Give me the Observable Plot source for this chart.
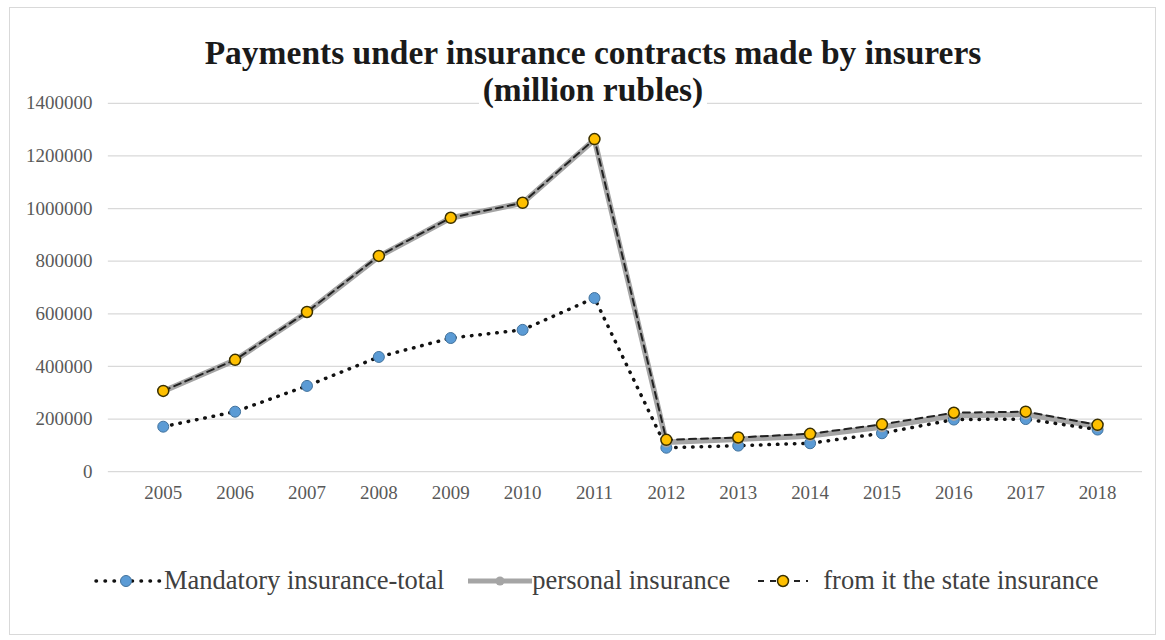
<!DOCTYPE html>
<html>
<head>
<meta charset="utf-8">
<script src="https://cdn.jsdelivr.net/npm/d3@7"></script>
<script src="https://cdn.jsdelivr.net/npm/@observablehq/plot@0.6"></script>
<style>
  html, body { margin: 0; padding: 0; background: #fff; }
  #frame {
    position: absolute; left: 9px; top: 7px; width: 1147px; height: 628px;
    border: 1px solid #d9d9d9; box-sizing: border-box; background: #fff;
  }
  #chart { position: absolute; left: 0; top: 0; }
  #title {
    position: absolute; left: 83px; top: 26px; width: 1000px;
    text-align: center; font-family: "Liberation Serif", "DejaVu Serif", serif; font-weight: bold;
    font-size: 33.5px; line-height: 37px; color: #1a1a1a;
  }
  #title span { background: #fff; padding: 0 4px; }
  #legend {
    position: absolute; left: 84px; top: 557px; white-space: nowrap;
    font-family: "Liberation Serif", "DejaVu Serif", serif; font-size: 26.5px; color: #404040;
    display: flex; align-items: center; gap: 24px;
  }
  #legend .item { display: flex; align-items: center; font-family: "Liberation Serif", "DejaVu Serif", serif; }
</style>
</head>
<body>
<div id="frame">
  <div id="chart"></div>
  <div id="title"><span>Payments under insurance contracts made by insurers</span><br><span>(million rubles)</span></div>
  <div id="legend"></div>
</div>
<script>
const years = [2005, 2006, 2007, 2008, 2009, 2010, 2011, 2012, 2013, 2014, 2015, 2016, 2017, 2018];
const mandatoryTotal = [171000, 228000, 326000, 436000, 508000, 539000, 660000, 91000, 99000, 108000, 146000, 198000, 200000, 160000];
const personalInsurance = [306000, 424000, 606000, 818000, 964000, 1021000, 1262000, 112000, 123000, 136000, 170000, 213000, 218000, 172000];
const stateInsurance = [307000, 425000, 607000, 820000, 965000, 1022000, 1264000, 121000, 130000, 144000, 180000, 224000, 228000, 178000];
const yTicks = [0, 200000, 400000, 600000, 800000, 1000000, 1200000, 1400000];
const seriesNames = ["Mandatory insurance-total", "personal insurance", "from it the state insurance"];

const rows = (vals) => years.map((y, i) => ({year: y, value: vals[i]}));
const mand = rows(mandatoryTotal);
const pers = rows(personalInsurance);
const stat = rows(stateInsurance);

const chart = Plot.plot({
  width: 1147,
  height: 530,
  marginLeft: 98,
  marginRight: 13,
  marginTop: 95,
  marginBottom: 66,
  x: {type: "point", domain: years, range: [149, 1093], padding: 0, label: null},
  y: {domain: [0, 1400000], ticks: yTicks, label: null},
  style: {fontFamily: "'Liberation Serif', 'DejaVu Serif', serif", fontSize: "19px", color: "#595959", background: "white"},
  marks: [
    Plot.ruleY(yTicks, {stroke: "#d9d9d9", strokeWidth: 1.3, strokeOpacity: 1}),
    Plot.axisY({ticks: yTicks, tickSize: 0, tickPadding: 16, tickFormat: d => String(d), fill: "#595959"}),
    Plot.axisX({tickSize: 0, tickPadding: 14, tickFormat: d => String(d), fill: "#595959"}),
    Plot.line(pers, {x: "year", y: "value", stroke: "#a5a5a5", strokeWidth: 5.5}),
    Plot.line(mand, {x: "year", y: "value", stroke: "#111", strokeWidth: 3.5, strokeDasharray: "0.5,8", strokeLinecap: "round"}),
    Plot.line(stat, {x: "year", y: "value", stroke: "#222", strokeWidth: 2, strokeDasharray: "7,5"}),
    Plot.dot(mand, {x: "year", y: "value", r: 5.5, fill: "#5b9bd5", stroke: "#41719c", strokeWidth: 1}),
    Plot.dot(pers, {x: "year", y: "value", r: 4.5, fill: "#a5a5a5", stroke: "#a5a5a5"}),
    Plot.dot(stat, {x: "year", y: "value", r: 5.5, fill: "#ffc000", stroke: "#3a3000", strokeWidth: 1.5})
  ]
});
document.getElementById("chart").appendChild(chart);

const swatches = [
  `<svg width="68" height="16" style="margin-right:2px"><line x1="2" y1="8" x2="66" y2="8" stroke="#111" stroke-width="3.5" stroke-dasharray="0.5,8.5" stroke-linecap="round"/><circle cx="32" cy="8" r="5.5" fill="#5b9bd5" stroke="#41719c"/></svg>`,
  `<svg width="64" height="16"><line x1="0" y1="8" x2="64" y2="8" stroke="#a5a5a5" stroke-width="5"/><circle cx="32" cy="8" r="4.5" fill="#a5a5a5"/></svg>`,
  `<svg width="58" height="16" style="margin-right:11px"><line x1="4" y1="8" x2="54" y2="8" stroke="#222" stroke-width="2" stroke-dasharray="6,6"/><circle cx="29" cy="8" r="5.5" fill="#ffc000" stroke="#3a3000" stroke-width="1.5"/></svg>`
];
const legend = document.getElementById("legend");
seriesNames.forEach((name, i) => {
  const d = document.createElement("div");
  d.className = "item";
  d.innerHTML = swatches[i] + `<span>${name}</span>`;
  legend.appendChild(d);
});
</script>
</body>
</html>
